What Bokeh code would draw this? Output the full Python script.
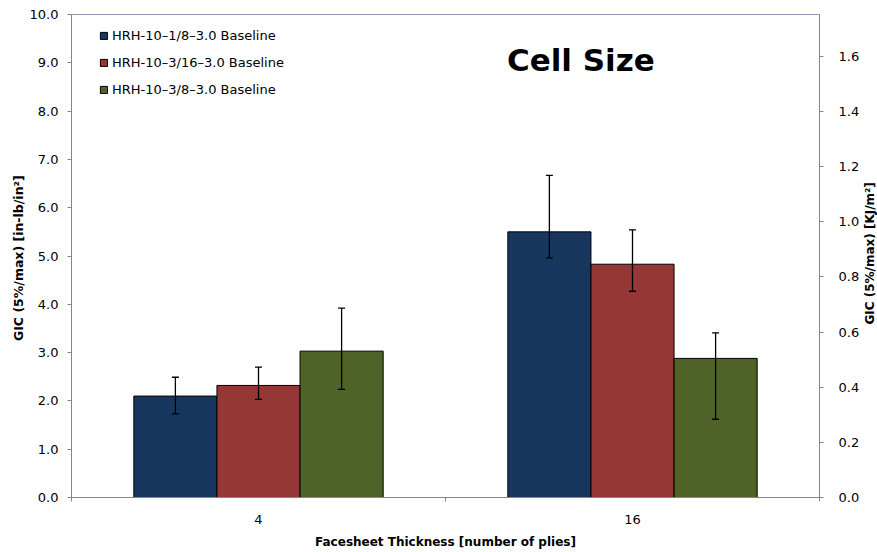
import math
from bokeh.plotting import figure
from bokeh.layouts import row
from bokeh.core.properties import value
from bokeh.models import (Range1d, LinearAxis, FixedTicker, NumeralTickFormatter,
                          ColumnDataSource, Whisker, TeeHead, Legend, LegendItem, Label)
from bokeh.embed import file_html
from bokeh.resources import INLINE

categories = ["4", "16"]
series = ["HRH-10\u20131/8\u20133.0 Baseline",
          "HRH-10\u20133/16\u20133.0 Baseline",
          "HRH-10\u20133/8\u20133.0 Baseline"]
colors = ["#17375E", "#953735", "#4F6228"]

# GIC values [in-lb/in^2] per series, for categories 4 and 16
values_18 = [2.10, 5.50]
values_316 = [2.32, 4.83]
values_38 = [3.03, 2.88]
# error bar limits
upper_18 = [2.49, 6.67]
lower_18 = [1.73, 4.96]
upper_316 = [2.70, 5.54]
lower_316 = [2.03, 4.27]
upper_38 = [3.92, 3.41]
lower_38 = [2.24, 1.62]

left_ticks = [0, 1, 2, 3, 4, 5, 6, 7, 8, 9, 10]
right_ticks = [0.0, 0.2, 0.4, 0.6, 0.8, 1.0, 1.2, 1.4, 1.6]
KJ_PER_INLB = 0.175127
right_title = "GIC (5%/max) [KJ/m\u00b2]"

all_values = [values_18, values_316, values_38]
all_upper = [upper_18, upper_316, upper_38]
all_lower = [lower_18, lower_316, lower_38]

FONT = "DejaVu Sans"
bar_w = 2.0 / 9.0
offsets = [-bar_w, 0.0, bar_w]

MAIN_W, SIDE_W, H = 862, 15, 552

p = figure(width=MAIN_W, height=H, output_backend="svg", toolbar_location=None,
           x_range=Range1d(0, len(categories)), y_range=Range1d(0, 10),
           min_border_left=71, min_border_right=42, min_border_top=14, min_border_bottom=55)
p.background_fill_color = "white"
p.border_fill_color = "white"
p.outline_line_color = "#8A9BAE"
p.outline_line_width = 1
p.xgrid.visible = False
p.ygrid.visible = False

renderers = []
for k in range(3):
    xs = [i + 0.5 + offsets[k] for i in range(len(categories))]
    src = ColumnDataSource(dict(x=xs, top=all_values[k], up=all_upper[k], lo=all_lower[k]))
    r = p.vbar(x="x", top="top", width=bar_w, bottom=0, source=src,
               fill_color=colors[k], line_color="black", line_width=1)
    renderers.append(r)
    w = Whisker(base="x", upper="up", lower="lo", source=src, level="overlay",
                line_color="black", line_width=1.3,
                upper_head=TeeHead(size=7, line_color="black", line_width=1.3),
                lower_head=TeeHead(size=7, line_color="black", line_width=1.3))
    p.add_layout(w)

# x axis
xa = p.xaxis[0]
xa.ticker = FixedTicker(ticks=[i + 0.5 for i in range(len(categories))],
                        minor_ticks=list(range(len(categories) + 1)))
xa.major_label_overrides = {i + 0.5: c for i, c in enumerate(categories)}
xa.major_tick_line_color = None
xa.minor_tick_in = 0
xa.minor_tick_out = 4
xa.minor_tick_line_color = "#868686"
xa.axis_line_color = "#868686"
xa.major_label_text_font = FONT
xa.major_label_text_font_size = "13px"
xa.major_label_text_color = "black"
xa.major_label_standoff = 11
xa.axis_label = "Facesheet Thickness [number of plies]"
xa.axis_label_text_font = FONT
xa.axis_label_text_font_size = "12px"
xa.axis_label_text_font_style = "bold"
xa.axis_label_text_color = "black"
xa.axis_label_standoff = 8

# left y axis
ya = p.yaxis[0]
ya.ticker = FixedTicker(ticks=left_ticks)
ya.formatter = NumeralTickFormatter(format="0.0")
ya.axis_line_color = "#868686"
ya.major_tick_line_color = "#868686"
ya.major_tick_in = 0
ya.major_tick_out = 4
ya.minor_tick_line_color = None
ya.major_label_text_font = FONT
ya.major_label_text_font_size = "13px"
ya.major_label_text_color = "black"
ya.major_label_standoff = 9
ya.axis_label = "GIC (5%/max)  [in-lb/in\u00b2]"
ya.axis_label_text_font = FONT
ya.axis_label_text_font_size = "12.5px"
ya.axis_label_text_font_style = "bold"
ya.axis_label_text_color = "black"
ya.axis_label_standoff = 1

# right y axis
p.extra_y_ranges = {"kj": Range1d(0, 10 * KJ_PER_INLB)}
ra = LinearAxis(y_range_name="kj")
ra.ticker = FixedTicker(ticks=right_ticks)
ra.formatter = NumeralTickFormatter(format="0.0")
ra.axis_line_color = "#868686"
ra.major_tick_line_color = "#868686"
ra.major_tick_in = 0
ra.major_tick_out = 4
ra.minor_tick_line_color = None
ra.major_label_text_font = FONT
ra.major_label_text_font_size = "13px"
ra.major_label_text_color = "black"
ra.major_label_standoff = 15
p.add_layout(ra, "right")

legend = Legend(items=[LegendItem(label=s, renderers=[r]) for s, r in zip(series, renderers)],
                location=(28, 398), orientation="vertical",
                glyph_width=9, glyph_height=9, label_height=20, spacing=7,
                label_standoff=4, padding=5, margin=0,
                border_line_color=None, background_fill_alpha=0,
                label_text_font=FONT, label_text_font_size="13px", label_text_color="black")
p.add_layout(legend)

title = Label(x=1.362, y=9.05, text="Cell Size", text_font=FONT, text_font_style="bold",
              text_font_size="31px", text_color="black", text_align="center",
              text_baseline="middle")
p.add_layout(title)

# narrow side panel carrying the secondary axis title (reads bottom to top)
side = figure(width=SIDE_W, height=H, output_backend="svg", toolbar_location=None,
              x_range=Range1d(0, SIDE_W), y_range=Range1d(0, H),
              x_axis_type=None, y_axis_type=None,
              min_border_left=0, min_border_right=0, min_border_top=0, min_border_bottom=0)
side.outline_line_color = None
side.background_fill_color = "white"
side.border_fill_color = "white"
side.xgrid.visible = False
side.ygrid.visible = False
side.text(x=[7.5], y=[279], text=[right_title], angle=math.pi / 2,
          text_font=value(FONT), text_font_size="12px", text_font_style="bold",
          text_color="black", text_align="center", text_baseline="middle")

layout = row(p, side, spacing=0)

open("out.html", "w").write(file_html(layout, INLINE))
